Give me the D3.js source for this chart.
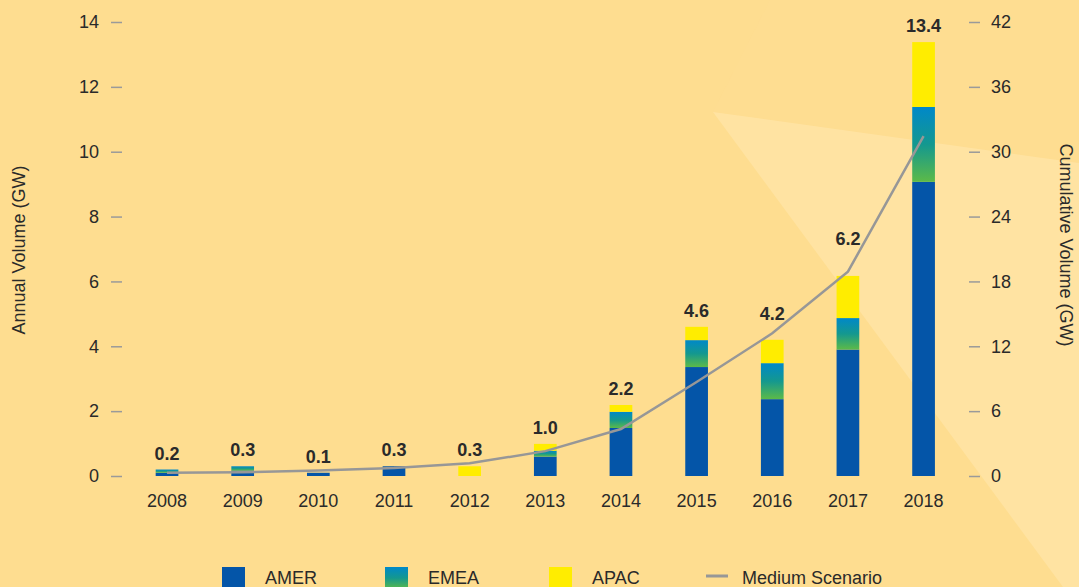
<!DOCTYPE html>
<html lang="en">
<head>
    <meta charset="UTF-8">
    <title>Annual and Cumulative Volume</title>
    <script src="https://d3js.org/d3.v7.min.js"></script>
    <style>
        html, body { margin: 0; padding: 0; background: #fedd90; }
        svg { display: block; font-family: "Liberation Sans", Arial, sans-serif; }
        .tick text { fill: #2a2a2a; font-size: 18px; }
        .tick line { stroke: #9a9a9a; stroke-width: 1.5; }
    </style>
</head>
<body>
    <div id="chart"></div>

    <script>
        // Chart data (GW)
        const years = ["2008", "2009", "2010", "2011", "2012", "2013", "2014", "2015", "2016", "2017", "2018"];
        const amer = [0.10, 0.17, 0.10, 0.30, 0.00, 0.60, 1.48, 3.36, 2.37, 3.90, 9.07];
        const emea = [0.10, 0.13, 0.00, 0.00, 0.00, 0.18, 0.50, 0.83, 1.11, 0.97, 2.31];
        const apac = [0.00, 0.00, 0.00, 0.00, 0.30, 0.21, 0.21, 0.41, 0.72, 1.30, 2.00];
        const mediumScenario = [0.3, 0.35, 0.5, 0.74, 1.17, 2.3, 4.35, 8.7, 13.2, 18.9, 31.45];
        const leftTicks = [0, 2, 4, 6, 8, 10, 12, 14];
        const rightTicks = [0, 6, 12, 18, 24, 30, 36, 42];
        const seriesNames = ["AMER", "EMEA", "APAC"];

        const W = 1079, H = 587;
        const svg = d3.select("#chart").append("svg")
            .attr("width", W)
            .attr("height", H);

        // gradient for EMEA
        const defs = svg.append("defs");
        const grad = defs.append("linearGradient")
            .attr("id", "emeaGrad")
            .attr("x1", 0).attr("y1", 0).attr("x2", 0).attr("y2", 1);
        grad.append("stop").attr("offset", "0%").attr("stop-color", "#0088c9");
        grad.append("stop").attr("offset", "50%").attr("stop-color", "#14988f");
        grad.append("stop").attr("offset", "100%").attr("stop-color", "#5cba48");

        // background with lighter facets on the right
        svg.append("rect").attr("width", W).attr("height", H).attr("fill", "#fedd90");
        svg.append("polygon")
            .attr("points", "713,112 770,0 1079,0 1079,163")
            .attr("fill", "#ffe29e").attr("opacity", 0.12);
        svg.append("polygon")
            .attr("points", "713,112 1079,163 1079,587 1063,587")
            .attr("fill", "#ffe3a2");

        const colors = { AMER: "#0455a8", EMEA: "url(#emeaGrad)", APAC: "#ffed00" };

        // scales
        const x = d3.scaleBand()
            .domain(years)
            .range([129.2, 961.4])
            .paddingInner(0.7)
            .paddingOuter(0.35);
        const cx = yr => x(yr) + x.bandwidth() / 2;

        const y = d3.scaleLinear().domain([0, 14]).range([476, 22]);
        const y2 = d3.scaleLinear().domain([0, 42]).range([476, 22]);

        // stacked data
        const table = years.map((yr, i) => ({ year: yr, AMER: amer[i], EMEA: emea[i], APAC: apac[i] }));
        const stacked = d3.stack().keys(seriesNames)(table);

        svg.append("g")
            .selectAll("g")
            .data(stacked)
            .enter()
            .append("g")
            .attr("fill", d => colors[d.key])
            .selectAll("rect")
            .data(d => d)
            .enter()
            .append("rect")
            .attr("x", d => x(d.data.year))
            .attr("y", d => y(d[1]))
            .attr("width", x.bandwidth())
            .attr("height", d => Math.max(0, y(d[0]) - y(d[1])));

        // line y at any x, used to keep the total labels clear of the line
        const lineAt = d3.scaleLinear()
            .domain(years.map(cx))
            .range(mediumScenario.map(v => y2(v)))
            .clamp(true);

        svg.append("g")
            .selectAll("text")
            .data(table)
            .enter()
            .append("text")
            .attr("x", d => cx(d.year))
            .attr("y", d => {
                const top = y(d.AMER + d.EMEA + d.APAC);
                return Math.min(top - 10, lineAt(cx(d.year) + 14) - 2);
            })
            .attr("text-anchor", "middle")
            .attr("font-size", 18)
            .attr("font-weight", "bold")
            .attr("fill", "#2a2a2a")
            .text(d => (d.AMER + d.EMEA + d.APAC).toFixed(1));

        // medium scenario line
        const line = d3.line()
            .x((d, i) => cx(years[i]))
            .y(d => y2(d));

        svg.append("path")
            .datum(mediumScenario)
            .attr("fill", "none")
            .attr("stroke", "#979797")
            .attr("stroke-width", 2.5)
            .attr("d", line);

        // axes
        const leftAxis = svg.append("g")
            .attr("transform", "translate(122,0)")
            .call(d3.axisLeft(y).tickValues(leftTicks).tickSize(11).tickPadding(12));
        leftAxis.select(".domain").remove();

        const rightAxis = svg.append("g")
            .attr("transform", "translate(969,0)")
            .call(d3.axisRight(y2).tickValues(rightTicks).tickSize(11).tickPadding(11));
        rightAxis.select(".domain").remove();

        const bottomAxis = svg.append("g")
            .attr("transform", "translate(0,476)")
            .call(d3.axisBottom(x).tickSize(0));
        bottomAxis.select(".domain").remove();
        bottomAxis.selectAll("text").attr("dy", null).attr("y", 31);

        // axis titles
        svg.append("text")
            .attr("transform", "translate(25,250) rotate(-90)")
            .attr("text-anchor", "middle")
            .attr("font-size", 18)
            .attr("fill", "#2a2a2a")
            .text("Annual Volume (GW)");

        svg.append("text")
            .attr("transform", "translate(1060,245) rotate(90)")
            .attr("text-anchor", "middle")
            .attr("font-size", 18)
            .attr("fill", "#2a2a2a")
            .text("Cumulative Volume (GW)");

        // legend
        const legendX = [222, 385, 549];
        const legend = svg.append("g");
        seriesNames.forEach((name, i) => {
            legend.append("rect")
                .attr("x", legendX[i])
                .attr("y", 567)
                .attr("width", 23)
                .attr("height", 22)
                .attr("fill", colors[name]);
            legend.append("text")
                .attr("x", legendX[i] + 43)
                .attr("y", 584)
                .attr("font-size", 18)
                .attr("fill", "#2a2a2a")
                .text(name);
        });
        legend.append("line")
            .attr("x1", 706).attr("x2", 728)
            .attr("y1", 576).attr("y2", 576)
            .attr("stroke", "#979797")
            .attr("stroke-width", 3);
        legend.append("text")
            .attr("x", 742)
            .attr("y", 584)
            .attr("font-size", 18)
            .attr("fill", "#2a2a2a")
            .text("Medium Scenario");
    </script>
</body>
</html>
